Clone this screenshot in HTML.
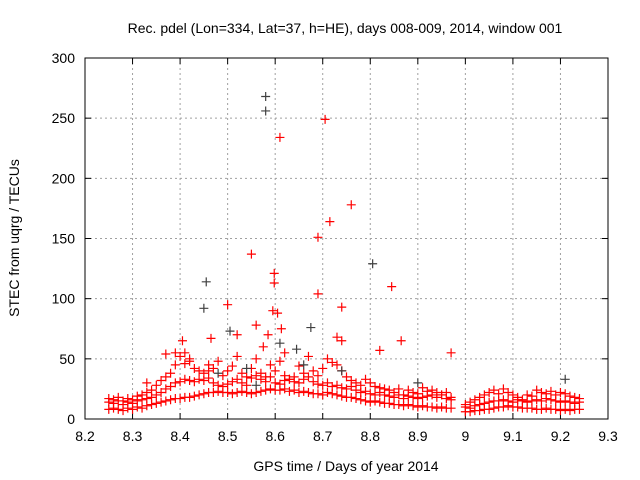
<!DOCTYPE html>
<html><head><meta charset="utf-8"><style>
html,body{margin:0;padding:0;background:#fff}
svg{display:block;font-family:"Liberation Sans",sans-serif}
</style></head><body>
<svg id="chart" width="640" height="480" xmlns="http://www.w3.org/2000/svg">
<text x="345" y="33" font-size="14" text-anchor="middle" fill="#000">Rec. pdel (Lon=334, Lat=37, h=HE), days 008-009, 2014, window 001</text>
<text x="346" y="471" font-size="14" text-anchor="middle" fill="#000">GPS time / Days of year 2014</text>
<text x="19" y="238" font-size="14" text-anchor="middle" fill="#000" transform="rotate(-90 19 238)">STEC from uqrg / TECUs</text>
<g id="grid"></g><g id="ticks"></g><g id="marks"></g>
<rect x="85" y="58" width="523" height="361" fill="none" stroke="#000" stroke-width="1"/>
</svg>
<script>
const xTicks=[8.2,8.3,8.4,8.5,8.6,8.7,8.8,8.9,9,9.1,9.2,9.3];
const xTickLabels=["8.2","8.3","8.4","8.5","8.6","8.7","8.8","8.9","9","9.1","9.2","9.3"];
const yTicks=[0,50,100,150,200,250,300];
const yTickLabels=["0","50","100","150","200","250","300"];
const day8Start=8.25, day9Start=9.0, step=0.01;
const seriesA=[8,9,8,7,9,8,10,9,11,12,13,14,15,16,17,17,18,18,19,20,21,22,22,23,22,22,21,22,23,22,21,22,23,24,25,24,24,25,23,24,22,23,22,21,21,20,22,21,20,19,18,18,17,16,15,14,15,14,13,13,12,12,11,12,11,10,11,10,10,9,10,9,9];
const seriesA2=[6,6,7,7,8,8,9,10,10,11,10,10,9,9,9,8,8,9,8,8,7,8,7,8,8];
const seriesB=[14,13,15,12,14,13,15,16,17,18,20,22,25,27,30,31,33,32,31,33,32,34,30,28,27,29,31,33,30,28,34,36,33,31,35,30,29,32,33,31,30,33,35,31,29,28,30,27,28,26,25,27,24,22,23,21,20,22,20,19,18,20,17,19,18,17,18,19,20,18,20,17,16];
const seriesB2=[10,9,11,12,13,14,15,15,16,15,14,16,15,14,15,16,15,17,16,15,14,15,14,13,14];
const seriesC=[17,16,18,15,17,16,19,20,22,24,28,32,35,38,45,52,55,48,42,40,38,45,42,48,36,40,44,52,38,35,42,50,38,35,45,40,48,36,33,35,44,38,52,40,36,42,50,47,45,40,35,32,30,28,33,30,27,26,25,24,22,25,20,24,22,21,26,23,24,22,20,22,18];
const seriesC2=[12,14,16,18,20,22,24,21,25,22,20,18,16,20,19,24,22,21,23,20,22,21,19,18,17];
const outlierX=[8.39,8.405,8.41,8.465,8.5,8.52,8.55,8.56,8.575,8.585,8.595,8.598,8.598,8.605,8.61,8.613,8.62,8.69,8.69,8.705,8.715,8.73,8.74,8.74,8.76,8.845,8.865,8.82,8.97,8.42,8.37,8.46,8.33];
const outlierY=[55,65,46,67,95,70,137,78,60,70,90,113,121,88,234,75,55,151,104,249,164,68,93,65,178,110,65,57,55,50,54,40,30];
const darkX=[8.45,8.455,8.505,8.58,8.58,8.61,8.645,8.675,8.805,8.54,9.21,8.48,8.56,8.66,8.9,8.74];
const darkY=[92,114,73,268,256,63,58,76,129,42,33,38,28,45,30,40];

const X0=85,X1=608,Y0=419,Y1=58;
const xs=v=>X0+(v-8.2)/(9.3-8.2)*(X1-X0);
const ys=v=>Y0-v/300*(Y0-Y1);
const NS="http://www.w3.org/2000/svg";
function mk(tag,attrs,parent){const e=document.createElementNS(NS,tag);for(const k in attrs)e.setAttribute(k,attrs[k]);parent.appendChild(e);return e;}
const grid=document.getElementById('grid'),ticks=document.getElementById('ticks'),marks=document.getElementById('marks');
xTicks.forEach((t,i)=>{const x=xs(t);
 if(i>0&&i<xTicks.length-1){const g=mk('line',{x1:x,x2:x,y1:Y1,y2:Y0,stroke:'#a0a0a0','stroke-dasharray':'2,3'},grid);
 
 }
 mk('line',{x1:x,x2:x,y1:Y0,y2:Y0-6,stroke:'#000'},ticks);
 mk('line',{x1:x,x2:x,y1:Y1,y2:Y1+6,stroke:'#000'},ticks);
 const l=mk('text',{x:x,y:Y0+22,'font-size':14,'text-anchor':'middle'},ticks);l.textContent=xTickLabels[i];
 
 
});
yTicks.forEach((t,i)=>{const y=ys(t);
 if(i>0&&i<yTicks.length-1){const g=mk('line',{x1:X0,x2:X1,y1:y,y2:y,stroke:'#a0a0a0','stroke-dasharray':'2,3'},grid);
 
 }
 mk('line',{x1:X0,x2:X0+6,y1:y,y2:y,stroke:'#000'},ticks);
 mk('line',{x1:X1,x2:X1-6,y1:y,y2:y,stroke:'#000'},ticks);
 const l=mk('text',{x:X0-10,y:y+5,'font-size':14,'text-anchor':'end'},ticks);l.textContent=yTickLabels[i];
 
 
});
function plus(xv,yv,color){const x=xs(xv),y=ys(yv);
 const p=mk('path',{d:`M${x-4.5},${y}H${x+4.5}M${x},${y-4.5}V${y+4.5}`,stroke:color,'stroke-width':1.2,fill:'none'},marks);
 
 }
function series(arr,start,color){arr.forEach((v,i)=>plus(start+i*step,v,color));}
series(seriesA,day8Start,'#ff0000');series(seriesA2,day9Start,'#ff0000');
series(seriesB,day8Start,'#ff0000');series(seriesB2,day9Start,'#ff0000');
series(seriesC,day8Start,'#ff0000');series(seriesC2,day9Start,'#ff0000');
outlierX.forEach((x,i)=>plus(x,outlierY[i],'#ff0000'));
darkX.forEach((x,i)=>plus(x,darkY[i],'#404040'));
</script>
</body></html>
